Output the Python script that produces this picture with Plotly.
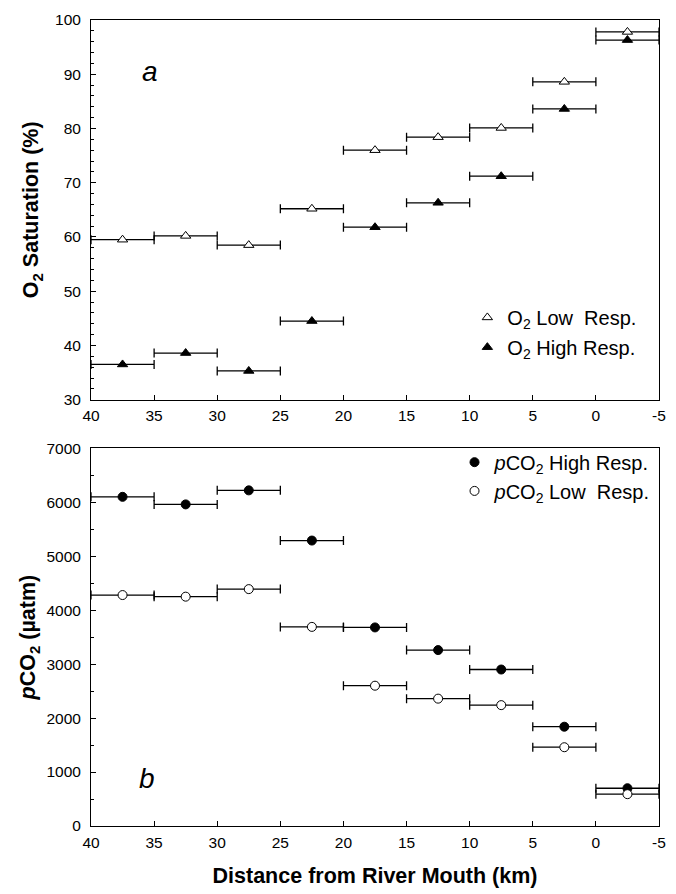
import plotly.graph_objects as go

# ---- data ----
distance = [37.5, 32.5, 27.5, 22.5, 17.5, 12.5, 7.5, 2.5, -2.5]
bin_half_width = [2.5] * 9

o2_low = [59.5, 60.2, 58.5, 65.2, 76.0, 78.4, 80.1, 88.6, 97.8]
o2_high = [36.5, 38.6, 35.3, 44.5, 61.8, 66.3, 71.2, 83.6, 96.3]

pco2_high = [6100, 5960, 6220, 5290, 3680, 3260, 2900, 1840, 700]
pco2_low = [4280, 4250, 4390, 3690, 2600, 2360, 2240, 1460, 590]

x_tickvals = [40, 35, 30, 25, 20, 15, 10, 5, 0, -5]
x_ticktext = ["40", "35", "30", "25", "20", "15", "10", "5", "0", "-5"]

FONT = "Liberation Sans, Arial, Helvetica, sans-serif"

W, H = 676, 894
PL, PR, PT, PB = 91, 666, 20, 833          # plot area in page pixels
plot_w, plot_h = PR - PL, PB - PT


def px_x(p):
    return (p - PL) / plot_w


def px_y(p):
    return (PB - p) / plot_h


fig = go.Figure()

err = dict(type="data", array=bin_half_width, symmetric=True,
           color="black", thickness=1.3, width=4.5)

fig.add_trace(go.Scatter(
    x=distance, y=o2_low, mode="markers", name="O<sub>2</sub> Low  Resp.",
    marker=dict(symbol="triangle-up", size=9, color="white",
                line=dict(color="black", width=1)),
    error_x=err, xaxis="x", yaxis="y", legend="legend2"))
fig.add_trace(go.Scatter(
    x=distance, y=o2_high, mode="markers", name="O<sub>2</sub> High Resp.",
    marker=dict(symbol="triangle-up", size=9, color="black",
                line=dict(color="black", width=1)),
    error_x=err, xaxis="x", yaxis="y", legend="legend3"))
fig.add_trace(go.Scatter(
    x=distance, y=pco2_high, mode="markers", name="<i>p</i>CO<sub>2</sub> High Resp.",
    marker=dict(symbol="circle", size=9, color="black",
                line=dict(color="black", width=1)),
    error_x=err, xaxis="x2", yaxis="y2", legend="legend4"))
fig.add_trace(go.Scatter(
    x=distance, y=pco2_low, mode="markers", name="<i>p</i>CO<sub>2</sub> Low  Resp.",
    marker=dict(symbol="circle", size=9, color="white",
                line=dict(color="black", width=1)),
    error_x=err, xaxis="x2", yaxis="y2", legend="legend5"))

axis_common = dict(showline=True, linecolor="black", linewidth=1, mirror=True,
                   showgrid=False, zeroline=False, ticks="inside",
                   tickcolor="black", ticklen=5, tickwidth=1,
                   tickfont=dict(family=FONT, size=15.5, color="black"))

top_dom = [px_y(403), 1.0]
bot_dom = [0.0, px_y(452)]

xa = dict(axis_common, range=[40, -5], tickvals=x_tickvals, ticktext=x_ticktext,
          autorange=False, ticklabelstandoff=2)

leg_common = dict(font=dict(family=FONT, size=20, color="black"),
                  bgcolor="rgba(0,0,0,0)", borderwidth=0,
                  xanchor="left", yanchor="middle")

title_font = dict(family=FONT, size=21.5, color="black")

fig.update_layout(
    width=W, height=H,
    margin=dict(l=PL, r=W - PR, t=PT, b=H - PB),
    paper_bgcolor="white", plot_bgcolor="white",
    font=dict(family=FONT, color="black"),
    showlegend=True,
    xaxis=dict(xa, anchor="y", domain=[0, 1]),
    yaxis=dict(axis_common, domain=top_dom, range=[30, 100], dtick=10,
               anchor="x", ticklabelstandoff=6,
               minor=dict(dtick=2, ticks="inside", ticklen=3, tickcolor="black"),
               title=dict(text="<b>O<sub>2</sub> Saturation (%)</b>",
                          font=title_font, standoff=10)),
    xaxis2=dict(xa, anchor="y2", domain=[0, 1],
                title=dict(text="<b>Distance from River Mouth (km)</b>",
                           font=title_font, standoff=18)),
    yaxis2=dict(axis_common, domain=bot_dom, range=[0, 7000], dtick=1000,
                anchor="x2", ticklabelstandoff=6,
                minor=dict(dtick=500, ticks="inside", ticklen=3, tickcolor="black"),
                title=dict(text="<b><i>p</i>CO<sub>2</sub> (µatm)</b>",
                           font=title_font, standoff=4)),
    legend2=dict(leg_common, x=px_x(472), y=px_y(320)),
    legend3=dict(leg_common, x=px_x(472), y=px_y(350)),
    legend4=dict(leg_common, x=px_x(459), y=px_y(466)),
    legend5=dict(leg_common, x=px_x(459), y=px_y(495)),
    annotations=[
        dict(text="<i>a</i>", x=35.3, y=90.5, xref="x", yref="y", showarrow=False,
             font=dict(family=FONT, size=28, color="black")),
        dict(text="<i>b</i>", x=35.6, y=880, xref="x2", yref="y2", showarrow=False,
             font=dict(family=FONT, size=28, color="black")),
    ],
)

fig.write_html("out.html",
               config={"displayModeBar": False},
               post_script="document.body.style.margin='0';"
                           "document.body.style.overflow='hidden';")
